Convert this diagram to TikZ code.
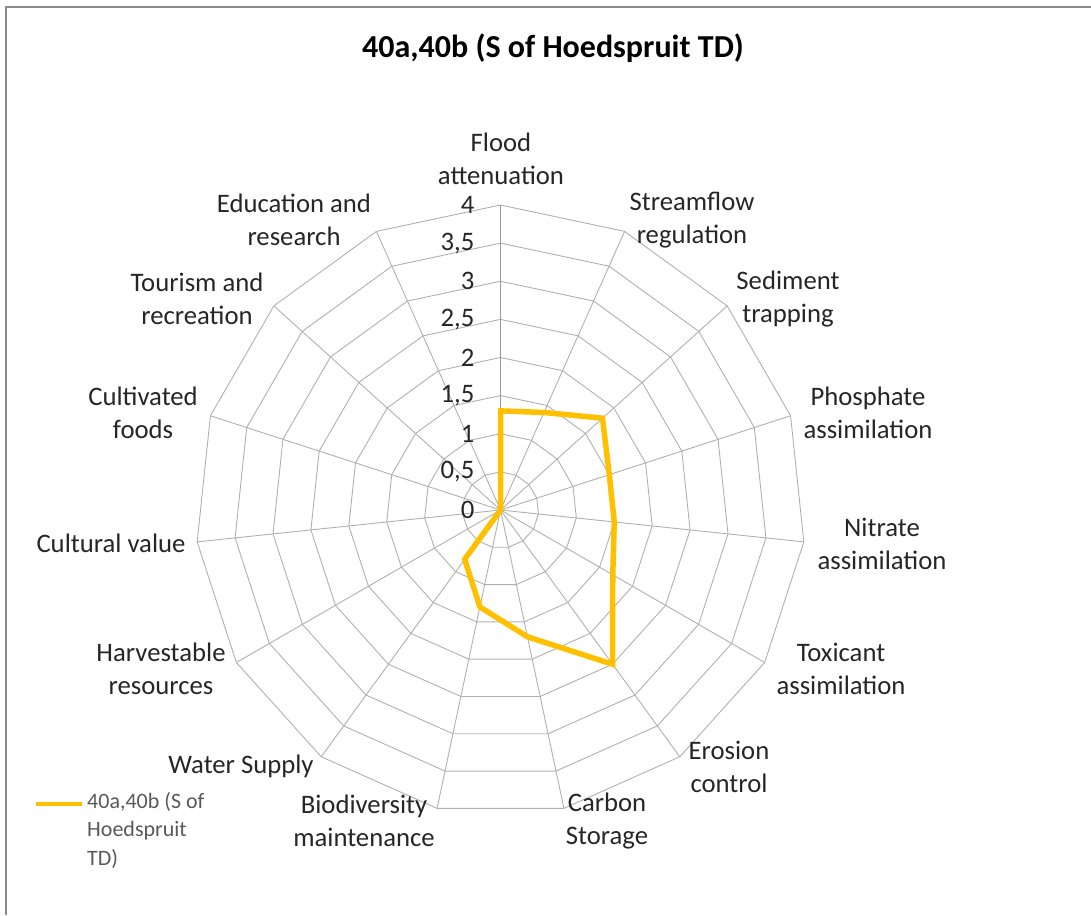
\documentclass[tikz,border=0pt]{standalone}
\usepackage{fontspec}
\setmainfont{Carlito}
\definecolor{seriesgold}{HTML}{FFC000}
\definecolor{gridgray}{HTML}{B0B0B0}
\definecolor{txtgray}{HTML}{262626}
\newcommand{\labelfont}{\fontsize{26.7}{32.5}\selectfont}
\newcommand{\legfont}{\fontsize{22}{28.5}\selectfont}

\begin{document}
\begin{tikzpicture}[x=1pt, y=-1pt,
  grid/.style={draw=gridgray, line width=0.9pt},
  valaxis/.style={draw=black!40, line width=1.4pt},
  series/.style={draw=seriesgold, line width=5.5pt},
  cat/.style={align=center, font=\labelfont, text=txtgray, inner sep=0pt},
  ticklab/.style={anchor=east, font=\labelfont, text=txtgray, inner sep=0pt}]
\useasboundingbox (0,0) rectangle (1091,915);
% chart frame (only top and left edge show)
\draw[black!45, line width=1.5pt] (6,915) -- (6,7) -- (1091,7);

% title
\node[font=\fontsize{32}{38}\selectfont\bfseries] (title) at (553,48) {40a,40b (S of Hoedspruit TD)};

\begin{scope}[shift={(500.5,510)}]
% rings, every 0.5
\foreach \v [evaluate=\v as \r using \v*38.125] in {1,...,8}
  \draw[grid] (-90:\r) \foreach \k in {1,...,14} { -- (-90+24*\k:\r) } -- cycle;
% spokes
\foreach \k in {1,...,14} \draw[grid] (0,0) -- (-90+24*\k:305);
\draw[valaxis] (0,0) -- (-90:305); % value axis

% value axis labels
\foreach \v/\t in {0/0,1/{0,5},2/1,3/{1,5},4/2,5/{2,5},6/3,7/{3,5},8/4}
  \node[ticklab] (tick\v) at (-26,-\v*38.125) {\t};

% data points
\foreach \val [count=\k from 0] in {1.3,1.4,1.8,1.5,1.5,1.7,2.5,1.7,1.3,0.8,0,0,0,0,0}
  \coordinate (p\k) at (-90+24*\k:\val*76.25);
\draw[series] (p0) \foreach \k in {1,...,14} { -- (p\k) } -- cycle;
\end{scope}

% category labels
\node[cat] (flood) at (501,159) {Flood\\attenuation};
\node[cat] (stream) at (692,220) {Streamflow\\regulation};
\node[cat] (sed) at (788,299) {Sediment\\trapping};
\node[cat] (phos) at (868,413) {Phosphate\\assimilation};
\node[cat] (nitr) at (882,544) {Nitrate\\assimilation};
\node[cat] (toxi) at (841,669) {Toxicant\\assimilation};
\node[cat] (eros) at (729,767) {Erosion\\control};
\node[cat] (carb) at (607,821) {Carbon\\Storage};
\node[cat] (biod) at (364,821) {Biodiversity\\maintenance};
\node[cat] (water) at (241,766) {Water Supply};
\node[cat] (harv) at (161,669) {Harvestable\\resources};
\node[cat] (cult) at (111,543) {Cultural value};
\node[cat] (cultiv) at (143,413) {Cultivated\\foods};
\node[cat] (tour) at (197,299) {Tourism and\\recreation};
\node[cat] (edu) at (294,220) {Education and\\research};

% legend
\coordinate (leg a) at (36,804);
\coordinate (leg b) at (82,804);
\draw[series, line width=4.5pt] (leg a) -- (leg b);
\node[align=left, anchor=north west, font=\legfont, text=black!65, inner sep=0pt] (legtxt) at (87,792) {40a,40b (S of\\Hoedspruit\\TD)};
\end{tikzpicture}
\end{document}
